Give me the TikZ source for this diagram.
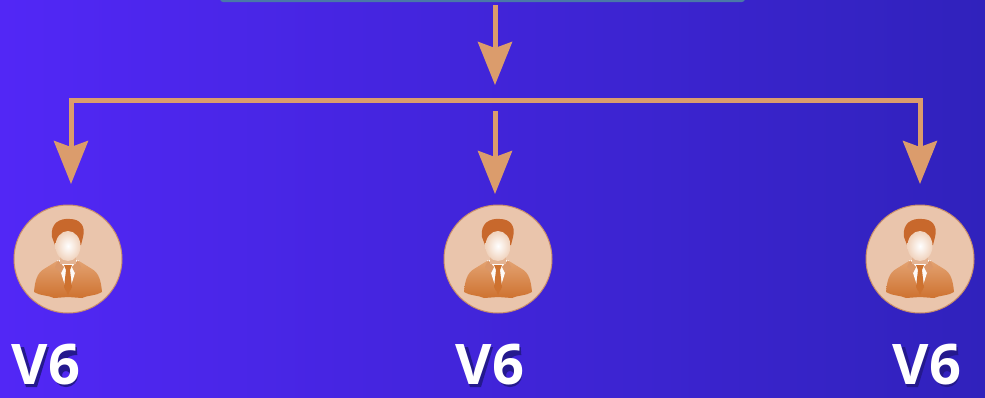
\documentclass[tikz,border=0pt]{standalone}
\usepackage{fontspec}
\setmainfont{Open Sans}
\usepackage{xcolor}
\usetikzlibrary{arrows.meta}
\definecolor{bgleft}{HTML}{5227F6}
\definecolor{bgright}{HTML}{3022BC}
\definecolor{wire}{HTML}{DB9C6C}
\definecolor{disc}{HTML}{EAC5AC}
\definecolor{discline}{HTML}{C98F6A}
\definecolor{suit}{HTML}{CE7230}
\definecolor{suitlight}{HTML}{E3A271}
\definecolor{hair}{HTML}{C8682C}
\definecolor{barcol}{HTML}{4A78A8}
\definecolor{face}{HTML}{F0D2BC}
\tikzset{
	wireline/.style={draw=wire,line width=5pt},
	wirearrow/.style={wireline,-{Stealth[length=43pt,width=34pt,inset=6pt]}},
	userdisc/.style={circle,draw=discline,line width=1pt,fill=disc,minimum size=108pt,inner sep=0pt},
	vlabel/.style={font=\bfseries\fontsize{56}{56}\selectfont,text=white,inner sep=0pt},
	person/.pic={
		% body
		\shade[top color=suitlight,bottom color=suit] (-34,33) .. controls (-33,22) and (-31,14) .. (-24,10)
			-- (-11,2) -- (11,2) -- (24,10) .. controls (31,14) and (33,22) .. (34,33)
			.. controls (28,37) and (20,36) .. (14,39) -- (0,38) -- (-14,39) .. controls (-20,36) and (-28,37) .. (-34,33) -- cycle;
		% shirt and tie
		\fill[white!92!disc] (-11,1) -- (11,1) -- (1,33) -- (-1,33) -- cycle;
		\fill[suit] (-4,6) -- (4,6) -- (2,11) -- (4,28) -- (0,36) -- (-4,28) -- (-2,11) -- cycle;
		\fill[suit!55!disc] (-10,1) -- (-13,8) -- (-7,14) -- (-4,8) -- cycle;
		\fill[suit!55!disc] (10,1) -- (13,8) -- (7,14) -- (4,8) -- cycle;
		% neck and head
		\fill[suit!20!disc] (-8,-8) rectangle (8,5);
		\fill[hair] (-16,-22) .. controls (-18,-36) and (-8,-41) .. (2,-40)
			.. controls (12,-40) and (18,-33) .. (15,-22) -- (13,-14) -- (-13,-14) -- cycle;
		\shade[inner color=white,outer color=face] (0,-13) ellipse (12.5 and 15);
	},
	vback/.pic={
		% soft edge behind the letters
		\fill[bgright!75!black] (-33,-19) -- (-23,-19) -- (-15,9) -- (-7,-19) -- (2,-19) -- (-10,21) -- (-21,21) -- cycle;
		\draw[bgright!75!black,line width=8pt] (19,9) circle (8);
		\draw[bgright!75!black,line width=8pt] (11,8) .. controls (11,-8) and (18,-15) .. (30,-15);
	}
}
\begin{document}
\begin{tikzpicture}[x=1pt,y=-1pt]
	\shade[left color=bgleft,right color=bgright] (0,0) rectangle (985,397);
	\useasboundingbox (0,0) rectangle (985,397);
	% top box edge
	\fill[rounded corners=3pt,fill=barcol] (220,-8) rectangle (745,2);
	\coordinate (top) at (495,5);
	\coordinate (split) at (495,85);
	\coordinate (wireL) at (71,100);
	\coordinate (wireR) at (920,100);
	\coordinate (wireM) at (495,111);
	\coordinate (tipL) at (71,184);
	\coordinate (tipM) at (495,194);
	\coordinate (tipR) at (920,184);
	\draw[wirearrow] (top)--(split);
	\draw[wirearrow] (wireL)--(tipL);
	\draw[wirearrow] (wireM)--(tipM);
	\draw[wirearrow] (wireR)--(tipR);
	\draw[wireline,line cap=rect] (wireL)--(wireR);
	\node[userdisc] (userL) at (68,259) {};
	\node[userdisc] (userM) at (498,259) {};
	\node[userdisc] (userR) at (920,259) {};
	\pic at (userL) {person};
	\pic at (userM) {person};
	\pic at (userR) {person};
	\pic at (47,366) {vback};
	\pic at (491,366) {vback};
	\pic at (928,366) {vback};
	\node[vlabel] (labelL) at (46,365) {V6};
	\node[vlabel] (labelM) at (490,365) {V6};
	\node[vlabel] (labelR) at (927,365) {V6};
\end{tikzpicture}
\end{document}
